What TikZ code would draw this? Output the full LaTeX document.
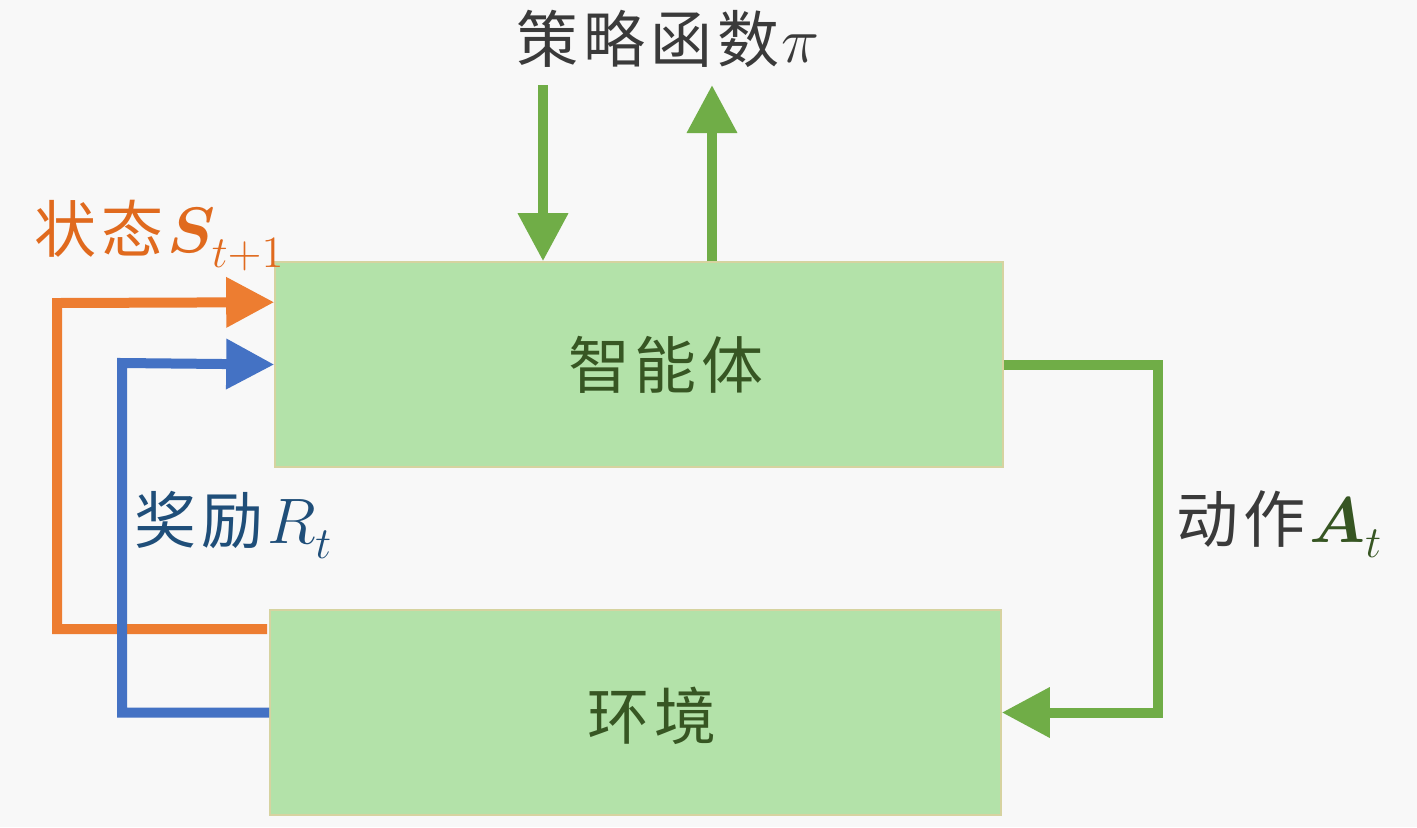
\documentclass[tikz,border=0pt]{standalone}
\usepackage{graphicx}
\usepackage{amsmath}
\usepackage{bm}
\usepackage{fontspec}
\newfontfamily\cjk[LetterSpace=8]{Noto Sans CJK SC}
\newcommand\mth[1]{\scalebox{1.55}{\fontsize{20.74}{25}\selectfont$#1$}}
\newcommand\lsub[1]{_{\lower2pt\hbox{$\scriptstyle #1$}}}
\usetikzlibrary{arrows.meta,calc}
\definecolor{bgc}{HTML}{F8F8F8}
\definecolor{boxfill}{HTML}{B3E2A9}
\definecolor{boxline}{HTML}{D6D3A0}
\definecolor{gline}{HTML}{70AD47}
\definecolor{oline}{HTML}{ED7D31}
\definecolor{bline}{HTML}{4472C4}
\definecolor{otext}{HTML}{E06A1E}
\definecolor{btext}{HTML}{1F4E79}
\definecolor{gtext}{HTML}{375623}
\definecolor{ktext}{HTML}{3A3A3A}
\tikzset{
  x=0.5pt, y=-0.5pt,
  box/.style={draw=boxline, line width=0.8pt, fill=boxfill, inner sep=0pt},
  conn/.style={line width=5pt, line join=miter, -{Triangle[length=24pt,width=24pt]}},
  lbl/.style={inner sep=0pt, font=\fontsize{31}{36}\selectfont},
}
\begin{document}
\begin{tikzpicture}
\fill[bgc] (0,0) rectangle (1417,827);
\useasboundingbox (0,0) rectangle (1417,827);
\node[box, minimum width=364pt, minimum height=102.5pt] (agent) at (639,364.5) {};
\node[box, minimum width=365.5pt, minimum height=102.5pt] (env) at (635.5,712.5) {};
\node[lbl, text=gtext] (agenttxt) at (666,365) {\cjk 智能体};
\node[lbl, text=gtext] (envtxt) at (652,716) {\cjk 环境};
\node[lbl, anchor=base west, text=ktext] (policy) at (516,62) {\cjk 策略函数\hspace{1pt}\mth{\pi}};
\node[lbl, anchor=base west, text=otext] (state) at (34,252) {\cjk 状态\hspace{2pt}\mth{\bm{S}\lsub{t+1}}};
\node[lbl, anchor=base west, text=btext] (reward) at (134,543) {\cjk 奖励\hspace{2pt}\mth{R\lsub{t}}};
\node[lbl, anchor=base west, text=ktext] (action) at (1176,542) {\cjk 动作\hspace{2pt}\textcolor{gtext}{\mth{\bm{A}\lsub{t}}}};
\coordinate (pin) at (543,85);
\coordinate (pout) at (712,85);
\draw[conn, gline] (pin) -- (pin |- agent.north);
\draw[conn, gline] (pout |- agent.north) -- (pout);
\draw[conn, gline] (agent.east) -- ++(154,0) |- (env.east);
\draw[conn, oline] ($(env.north west)+(-2,20)$) -| (57,303) -- ($(agent.north west)+(0,41)$);
\draw[conn, bline] (env.west) -| (122,363) -- (agent.west);
\end{tikzpicture}
\end{document}
